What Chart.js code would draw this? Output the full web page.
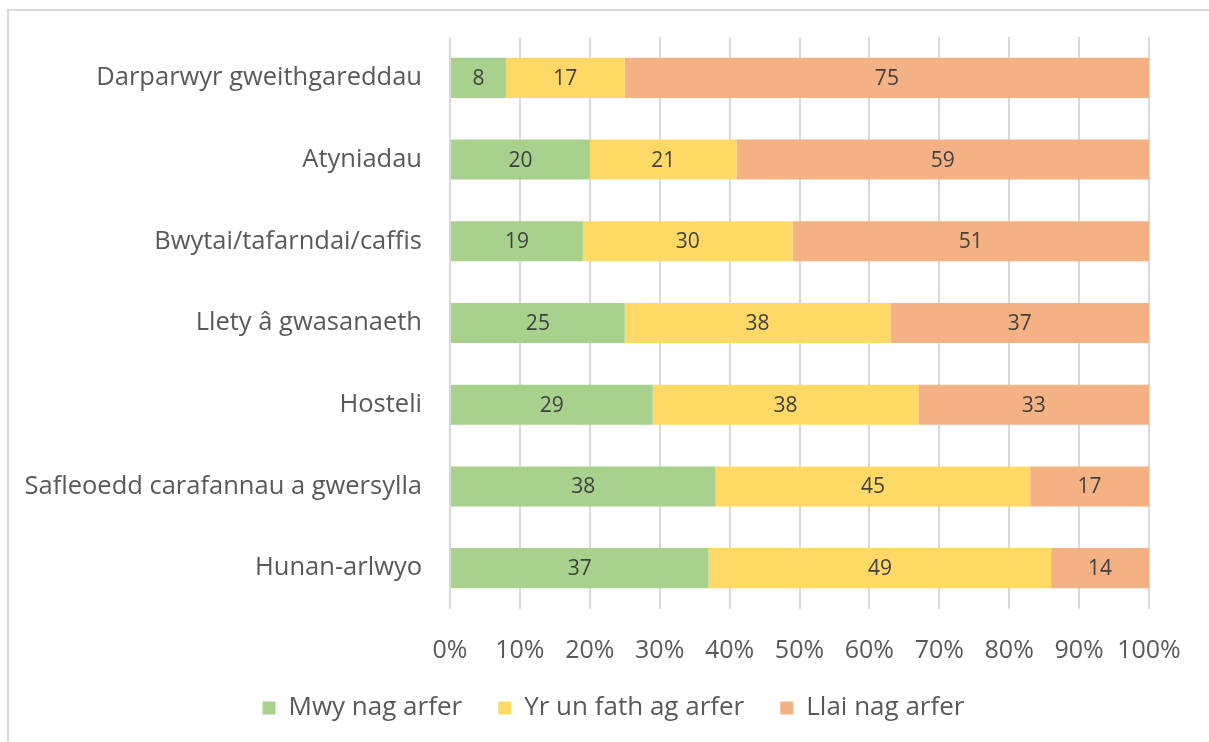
<!DOCTYPE html>
<html>
<head>
<meta charset="utf-8">
<script src="https://cdn.jsdelivr.net/npm/chart.js@4"></script>
<style>
  body { margin: 0; background: #fff; }
  #frame { position: absolute; left: 7px; top: 9px; width: 1300px; height: 800px; border: 2px solid #d9d9d9; box-sizing: border-box; }
  #wrap { position: absolute; left: 0; top: 0; width: 1209px; height: 742px; }
</style>
</head>
<body>
<div id="frame"></div>
<div id="wrap"><canvas id="myChart"></canvas></div>
<script>
const categories = [
    "Darparwyr gweithgareddau",
    "Atyniadau",
    "Bwytai/tafarndai/caffis",
    "Llety â gwasanaeth",
    "Hosteli",
    "Safleoedd carafannau a gwersylla",
    "Hunan-arlwyo"
];
const seriesNames = ["Mwy nag arfer", "Yr un fath ag arfer", "Llai nag arfer"];
const moreThanUsual = [8, 20, 19, 25, 29, 38, 37];
const sameAsUsual = [17, 21, 30, 38, 38, 45, 49];
const lessThanUsual = [75, 59, 51, 37, 33, 17, 14];
const seriesColours = ["#A9D18E", "#FFD966", "#F4B183"];

const fontFamily = "'Open Sans', Lato, sans-serif";

// writes each value in the middle of its bar
const barValues = {
    id: 'barValues',
    afterDatasetsDraw(chart) {
        const ctx = chart.ctx;
        ctx.save();
        ctx.font = "21px " + fontFamily;
        ctx.fillStyle = "#404040";
        ctx.textAlign = "center";
        ctx.textBaseline = "middle";
        chart.data.datasets.forEach((ds, i) => {
            chart.getDatasetMeta(i).data.forEach((bar, j) => {
                const p = bar.getProps(['x', 'y', 'base'], true);
                ctx.fillText(ds.data[j], (p.x + p.base) / 2, p.y + 1);
            });
        });
        ctx.restore();
    }
};

// the legend sits a bit right of the canvas centre in the original
const legendShift = {
    id: 'legendShift',
    afterLayout(chart) {
        chart.legend.left += 39;
        chart.legend.right += 39;
    }
};

const ctx = document.getElementById('myChart').getContext('2d');
const myChart = new Chart(ctx, {
    type: 'bar',
    data: {
        labels: categories,
        datasets: [
            { label: seriesNames[0], data: moreThanUsual, backgroundColor: seriesColours[0] },
            { label: seriesNames[1], data: sameAsUsual, backgroundColor: seriesColours[1] },
            { label: seriesNames[2], data: lessThanUsual, backgroundColor: seriesColours[2] }
        ]
    },
    options: {
        indexAxis: 'y',
        responsive: true,
        maintainAspectRatio: false,
        animation: false,
        datasets: { bar: { barPercentage: 0.49, categoryPercentage: 1 } },
        layout: { padding: { top: 37, right: 60, left: 0, bottom: 11 } },
        scales: {
            x: {
                stacked: true,
                min: 0,
                max: 100,
                ticks: {
                    stepSize: 10,
                    callback: v => v + '%',
                    color: "#595959",
                    font: { family: fontFamily, size: 25 },
                    padding: 27
                },
                grid: { color: "#d9d9d9", lineWidth: 2, drawTicks: false },
                border: { display: false },
                afterFit(scale) { scale.height = 50; }
            },
            y: {
                stacked: true,
                ticks: {
                    color: "#595959",
                    font: { family: fontFamily, size: 25.5 },
                    padding: 28
                },
                grid: { display: false, drawTicks: false },
                border: { display: false },
                afterFit(scale) {
                    scale.width = 450;
                    scale.paddingTop = 0;
                    scale.paddingBottom = 0;
                }
            }
        },
        plugins: {
            legend: {
                position: 'bottom',
                labels: {
                    color: "#595959",
                    font: { family: fontFamily, size: 26 },
                    boxWidth: 13,
                    boxHeight: 13,
                    padding: 36
                }
            },
            tooltip: { enabled: false }
        }
    },
    plugins: [barValues, legendShift]
});
</script>
</body>
</html>
